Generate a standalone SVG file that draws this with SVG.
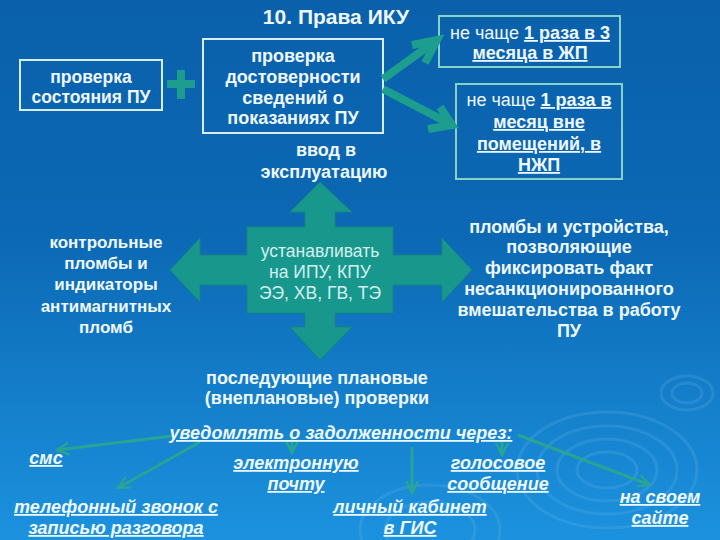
<svg xmlns="http://www.w3.org/2000/svg" width="720" height="540" viewBox="0 0 720 540">
<defs>
<linearGradient id="bg" x1="0" y1="0" x2="0" y2="1">
<stop offset="0" stop-color="#0a60ab"/>
<stop offset="0.45" stop-color="#0c69b5"/>
<stop offset="1" stop-color="#1c92de"/>
</linearGradient>
<marker id="chev" viewBox="0 0 10 10" refX="9" refY="5" markerWidth="5" markerHeight="5" orient="auto" markerUnits="strokeWidth">
<path d="M1,1 L9,5 L1,9" fill="none" stroke="#2aa88e" stroke-width="1.6"/>
</marker>
<style>
text{font-family:"Liberation Sans",Arial,sans-serif;fill:#eef8ff;text-anchor:middle}
.b{font-weight:bold;font-size:18px}
.n{font-weight:normal;font-size:18px}
.u{text-decoration:underline}
.i{font-weight:bold;font-style:italic;font-size:18px;text-decoration:underline}
.box{fill:none;stroke:#d6eef2;stroke-width:2}
.box2{fill:none;stroke:#86d2c4;stroke-width:2}
.big{stroke:#1c9d8d;stroke-width:8;fill:none;stroke-linecap:butt}
.thin{stroke:#2aa88e;stroke-width:3;fill:none;opacity:0.9}
.rip{fill:none;stroke:#6cc0f0;stroke-opacity:0.2;stroke-width:3}
</style>
</defs>
<rect width="720" height="540" fill="url(#bg)"/>
<g id="ripples">
<ellipse class="rip" cx="607" cy="470" rx="90" ry="58"/>
<ellipse class="rip" cx="607" cy="470" rx="70" ry="44"/>
<ellipse class="rip" cx="607" cy="470" rx="50" ry="31"/>
<ellipse class="rip" cx="607" cy="470" rx="30" ry="18"/>
<ellipse class="rip" cx="687" cy="393" rx="26" ry="17"/>
<ellipse class="rip" cx="687" cy="393" rx="15" ry="10"/>
<ellipse class="rip" cx="430" cy="530" rx="70" ry="45"/>
<ellipse class="rip" cx="430" cy="530" rx="45" ry="28"/>
</g>
<text class="b" x="336" y="24" style="font-size:21px">10. Права ИКУ</text>
<g id="n1">
<rect class="box" x="20" y="60" width="142" height="50"/>
<text class="b" x="91" y="83" style="font-size:17.5px">проверка</text>
<text class="b" x="91" y="103" style="font-size:17.5px">состояния ПУ</text>
</g>
<g id="plus">
<rect x="177" y="70" width="8" height="29" fill="#1c9d8d"/>
<rect x="167" y="80" width="28" height="8" fill="#1c9d8d"/>
</g>
<g id="n2">
<rect class="box" x="203" y="39" width="180" height="94"/>
<text class="b" x="293" y="62">проверка</text>
<text class="b" x="293" y="83">достоверности</text>
<text class="b" x="293" y="104">сведений о</text>
<text class="b" x="293" y="124">показаниях ПУ</text>
</g>
<g id="n3">
<rect class="box2" x="439" y="16" width="181" height="51"/>
<text class="n" x="530" y="39">не чаще <tspan class="u" font-weight="bold">1 раза в 3</tspan></text>
<text class="b u" x="530" y="59">месяца в ЖП</text>
</g>
<g id="n4">
<rect class="box2" x="456" y="84" width="166" height="95"/>
<text class="n" x="539" y="106">не чаще <tspan class="u" font-weight="bold">1 раза в</tspan></text>
<text class="b u" x="539" y="128">месяц вне</text>
<text class="b u" x="539" y="150">помещений, в</text>
<text class="b u" x="539" y="171">НЖП</text>
</g>
<g id="cross">
<path d="M320,182 L352,212 L335,212 L335,227 L393,227 L393,255 L442,255 L442,238 L472,270 L442,302 L442,285 L393,285 L393,313 L335,313 L335,327 L352,327 L320,360 L290,327 L305,327 L305,313 L247,313 L247,285 L200,285 L200,302 L170,270 L200,238 L200,255 L247,255 L247,227 L305,227 L305,212 L290,212 Z" fill="#18978d" stroke="#14867f" stroke-width="1"/>
<text class="n" x="320" y="257" style="fill:#d4efee;font-size:17.5px">устанавливать</text>
<text class="n" x="320" y="278" style="fill:#d4efee;font-size:17.5px">на ИПУ, КПУ</text>
<text class="n" x="320" y="299" style="fill:#d4efee;font-size:17.5px">ЭЭ, ХВ, ГВ, ТЭ</text>
</g>
<g id="top">
<text class="b" x="326" y="156">ввод в</text>
<text class="b" x="324" y="178">эксплуатацию</text>
</g>
<g id="left">
<text class="b" x="106" y="248" style="font-size:17px">контрольные</text>
<text class="b" x="106" y="269" style="font-size:17px">пломбы и</text>
<text class="b" x="106" y="290" style="font-size:17px">индикаторы</text>
<text class="b" x="106" y="312" style="font-size:17px">антимагнитных</text>
<text class="b" x="106" y="333" style="font-size:17px">пломб</text>
</g>
<g id="right">
<text class="b" x="569" y="233">пломбы и устройства,</text>
<text class="b" x="569" y="253">позволяющие</text>
<text class="b" x="569" y="274">фиксировать факт</text>
<text class="b" x="569" y="295">несанкционированного</text>
<text class="b" x="569" y="316">вмешательства в работу</text>
<text class="b" x="569" y="337">ПУ</text>
</g>
<g id="bottom">
<text class="b" x="317" y="384">последующие плановые</text>
<text class="b" x="317" y="404">(внеплановые) проверки</text>
</g>
<g id="connectors">
<path class="big" d="M383,79 L437,40"/>
<path class="big" d="M412,45 L437,40 L425,63"/>
<path class="big" d="M383,89 L452,125"/>
<path class="big" d="M428,129 L452,125 L440,107"/>
<path class="thin" d="M172,436 L57,450" marker-end="url(#chev)"/>
<path class="thin" d="M200,442 L118,488" marker-end="url(#chev)"/>
<path class="thin" d="M292,436 L292,453" marker-end="url(#chev)"/>
<path class="thin" d="M412,447 L412,493" marker-end="url(#chev)"/>
<path class="thin" d="M502,442 L502,455" marker-end="url(#chev)"/>
<path class="thin" d="M518,435 L650,485" marker-end="url(#chev)"/>
</g>
<g id="notify">
<text class="i" x="341" y="439">уведомлять о задолженности через:</text>
<text class="i" x="46" y="464">смс</text>
<text class="i" x="296" y="469">электронную</text>
<text class="i" x="296" y="490">почту</text>
<text class="i" x="498" y="469">голосовое</text>
<text class="i" x="498" y="490">сообщение</text>
<text class="i" x="116" y="513">телефонный звонок с</text>
<text class="i" x="116" y="534">записью разговора</text>
<text class="i" x="410" y="513">личный кабинет</text>
<text class="i" x="410" y="534">в ГИС</text>
<text class="i" x="660" y="503">на своем</text>
<text class="i" x="660" y="524">сайте </text>
</g>
</svg>
